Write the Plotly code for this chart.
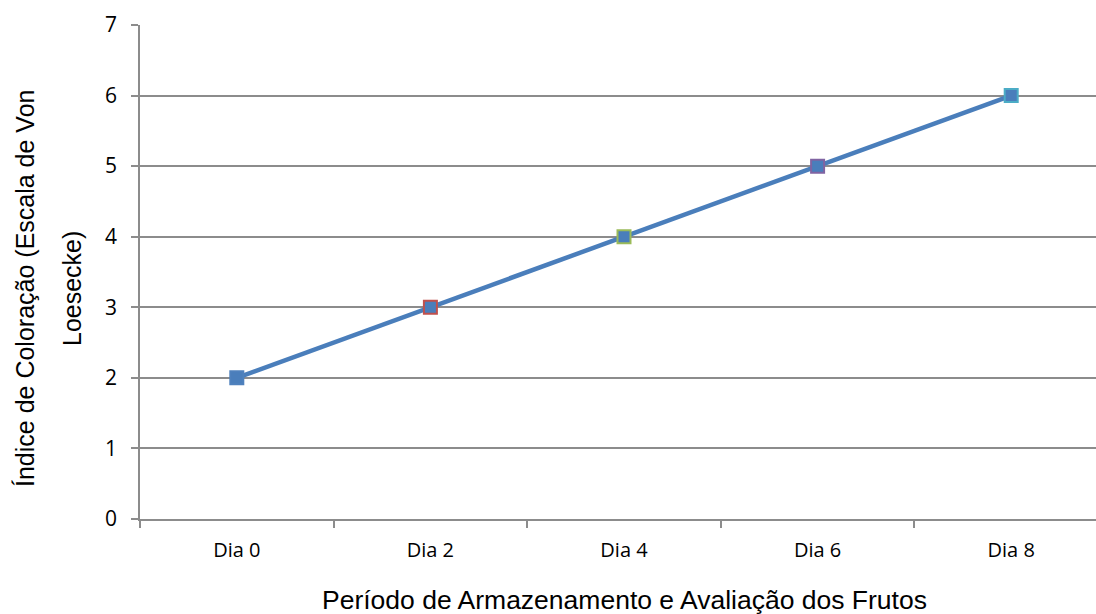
import plotly.graph_objects as go

categories = ["Dia 0", "Dia 2", "Dia 4", "Dia 6", "Dia 8"]
values = [2, 3, 4, 5, 6]
marker_edges = ["#4F81BD", "#C0504D", "#9BBB59", "#8064A2", "#4BACC6"]
y_ticks = [0, 1, 2, 3, 4, 5, 6, 7]

xpos = list(range(len(categories)))

fig = go.Figure()
fig.add_trace(go.Scatter(
    x=xpos, y=values, mode="lines+markers",
    line=dict(color="#4A7EBB", width=4.5),
    marker=dict(symbol="square", size=13, color="#4A7EBB",
                line=dict(color=marker_edges, width=2)),
    showlegend=False, cliponaxis=False,
))

grid = "#8C8C8C"
fig.update_layout(
    width=1096, height=614,
    margin=dict(l=140, r=0, t=25, b=95),
    paper_bgcolor="white", plot_bgcolor="white",
    font=dict(family="Open Sans", color="black"),
    xaxis=dict(
        range=[-0.5, 4.438], tickvals=xpos, ticktext=categories,
        showgrid=False, zeroline=False, showline=True, linecolor=grid, linewidth=1.5,
        ticks="", tickfont=dict(size=20, family="Open Sans"),
        minor=dict(tickvals=[-0.5, 0.5, 1.5, 2.5, 3.5], ticks="outside",
                   ticklen=7, tickcolor=grid, tickwidth=1.5, showgrid=False),
        ticklabelstandoff=12,
    ),
    yaxis=dict(
        range=[0, 7], tickvals=y_ticks,
        showgrid=True, gridcolor=grid, gridwidth=1.5,
        zeroline=False, showline=True, linecolor=grid, linewidth=1.5,
        ticks="outside", ticklen=7, tickcolor=grid, tickwidth=1.5,
        tickfont=dict(size=21, family="Open Sans"),
        ticklabelstandoff=10,
    ),
    annotations=[
        dict(text="Período de Armazenamento e Avaliação dos Frutos",
             xref="paper", yref="paper", x=(624 - 140) / 956, y=-(600 - 519) / 494,
             showarrow=False, xanchor="center", yanchor="middle",
             font=dict(family="Liberation Sans", size=26.5, color="black")),
        dict(text="Índice de Coloração (Escala de Von",
             xref="paper", yref="paper", x=-(140 - 25) / 956, y=(519 - 289) / 494,
             showarrow=False, textangle=-90, xanchor="center", yanchor="middle",
             font=dict(family="Liberation Sans", size=25, color="black")),
        dict(text="Loesecke)",
             xref="paper", yref="paper", x=-(140 - 72) / 956, y=(519 - 289) / 494,
             showarrow=False, textangle=-90, xanchor="center", yanchor="middle",
             font=dict(family="Liberation Sans", size=25, color="black")),
    ],
)

fig.write_html(
    "out.html",
    config={"displayModeBar": False},
    post_script="document.body.style.margin='0';document.body.style.overflow='hidden';",
)
